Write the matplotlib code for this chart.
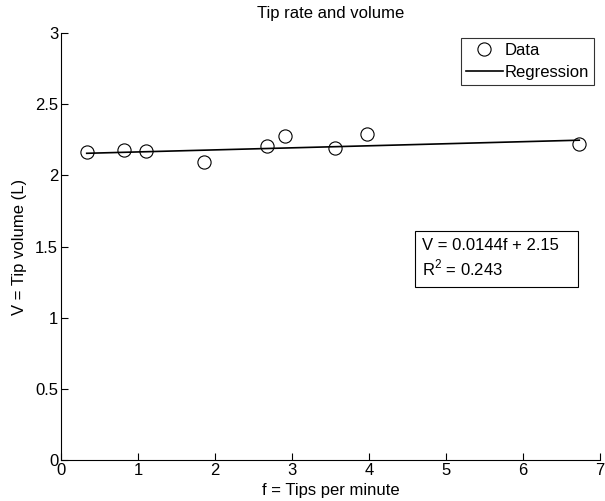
import matplotlib
matplotlib.use("Agg")
import matplotlib.pyplot as plt
from matplotlib.patches import Rectangle
import numpy as np

plt.rcParams['font.family'] = ['Liberation Sans', 'DejaVu Sans']
plt.rcParams['mathtext.fontset'] = 'custom'
plt.rcParams['mathtext.rm'] = 'Liberation Sans'

tips_per_minute = [0.334, 0.818, 1.104, 1.861, 2.671, 2.913, 3.555, 3.978, 6.731]
tip_volume = [2.162, 2.176, 2.171, 2.096, 2.207, 2.279, 2.190, 2.293, 2.218]
slope = 0.0144
intercept = 2.15
r_squared = 0.243
x_ticks = [0, 1, 2, 3, 4, 5, 6, 7]
y_ticks = [0, 0.5, 1, 1.5, 2, 2.5, 3]
y_tick_labels = ['0', '0.5', '1', '1.5', '2', '2.5', '3']

FS = 12
W, H = 605, 501
fig = plt.figure(figsize=(6.05, 5.01), dpi=100)
ax = fig.add_axes([61/W, 41/H, 539/W, 427/H])

ax.plot(tips_per_minute, tip_volume, 'o', mfc='none', mec='black', ms=9.5, mew=0.8, label='Data', zorder=3)
fx = np.array([min(tips_per_minute), max(tips_per_minute)])
ax.plot(fx, slope*fx + intercept, '-', color='black', lw=1.2, label='Regression', zorder=2)

ax.set_xlim(0, 7)
ax.set_ylim(0, 3)
ax.set_xticks(x_ticks)
ax.set_yticks(y_ticks)
ax.set_yticklabels(y_tick_labels)
ax.spines['top'].set_visible(False)
ax.spines['right'].set_visible(False)
ax.spines['left'].set_linewidth(0.8)
ax.spines['bottom'].set_linewidth(0.8)
ax.tick_params(direction='in', length=5, width=0.8, labelsize=FS, pad=2)

ax.set_title('Tip rate and volume', fontsize=FS, pad=11)
ax.set_xlabel('f = Tips per minute', fontsize=FS, labelpad=4)
ax.set_ylabel('V = Tip volume (L)', fontsize=FS, labelpad=6)

leg = ax.legend(loc='upper right', bbox_to_anchor=(594/W, 1 - 38/H), bbox_transform=fig.transFigure,
                fontsize=FS, frameon=True, fancybox=False, edgecolor='black', borderpad=0.3,
                handlelength=2.2, handletextpad=0.12, labelspacing=0.42, borderaxespad=0)
leg.get_frame().set_linewidth(0.8)

# annotation box
fig.add_artist(Rectangle((415/W, 1 - 287/H), 163/W, 56/H, transform=fig.transFigure,
                         fc='white', ec='black', lw=0.8, zorder=5))
fig.text(422/W, 1 - 245/H, 'V = %.4ff + %.2f' % (slope, intercept), fontsize=FS,
         va='center', ha='left', zorder=6)
fig.text(422/W, 1 - 268/H, 'R$^2$ = %.3f' % r_squared, fontsize=FS,
         va='center', ha='left', zorder=6)

fig.savefig('out.png', dpi=100)
